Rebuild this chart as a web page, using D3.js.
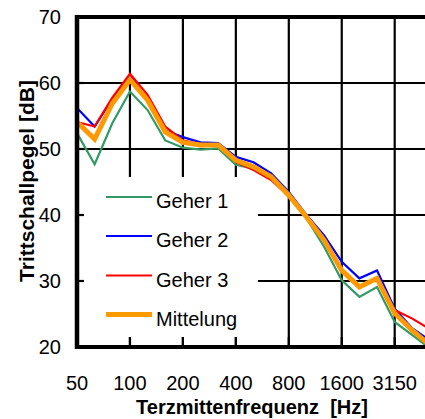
<!DOCTYPE html>
<html>
<head>
<meta charset="utf-8">
<script src="https://cdn.jsdelivr.net/npm/d3@7"></script>
<style>
  html, body { margin: 0; padding: 0; background: #fff; }
  svg { display: block; }
  text { font-family: "Liberation Sans", Arial, sans-serif; fill: #000; }
</style>
</head>
<body>
<svg id="chart" width="425" height="419"></svg>
<script>
// Third-octave bands (Hz)
const bands = ["50","63","80","100","125","160","200","250","315","400","500","630","800","1000","1250","1600","2000","2500","3150","4000","5000"];
const tickLabels = ["50","100","200","400","800","1600","3150"];
const yTicks = [20, 30, 40, 50, 60, 70];

const geher1 = [52.4, 47.7, 53.9, 58.7, 55.9, 51.3, 50.2, 49.9, 50.1, 47.6, 47.0, 45.5, 43.0, 39.5, 35.2, 30.1, 27.6, 29.1, 23.8, 21.8, 19.8];
const geher2 = [56.2, 53.4, 57.6, 61.1, 57.5, 52.8, 51.8, 51.0, 50.9, 48.8, 48.0, 46.3, 43.5, 40.0, 36.9, 32.9, 30.4, 31.6, 25.8, 22.8, 21.0];
const geher3 = [54.1, 53.4, 57.8, 61.4, 58.2, 53.4, 51.3, 50.7, 50.7, 48.0, 46.8, 45.3, 42.8, 39.7, 36.2, 31.5, 29.2, 30.4, 25.6, 24.3, 22.7];
const mittel = [54.1, 51.5, 56.9, 60.5, 57.4, 52.6, 51.0, 50.6, 50.6, 48.3, 47.3, 45.8, 43.0, 39.7, 36.2, 31.6, 29.1, 30.4, 25.1, 22.5, 20.3];

const seriesNames = ["Geher 1", "Geher 2", "Geher 3", "Mittelung"];
const seriesData = [geher1, geher2, geher3, mittel];
const seriesColors = ["#339966", "#0000ff", "#ff0000", "#ff9900"];
const seriesWidths = [2.2, 2.2, 2.2, 5];

const svg = d3.select("#chart");
const pLeft = 77, pTop = 17, pBottom = 347;
const step = 17.65;
const x = d3.scalePoint().domain(bands).range([pLeft, pLeft + step * (bands.length - 1)]);
const pRight = pLeft + step * 21;
const y = d3.scaleLinear().domain([20, 70]).range([pBottom, pTop]);

// Gridlines
const grid = svg.append("g");
yTicks.filter(v => v > 20 && v < 70).forEach(v => {
  grid.append("line").attr("x1", pLeft).attr("x2", pRight)
    .attr("y1", y(v)).attr("y2", y(v))
    .attr("stroke", "#000").attr("stroke-width", 2.2);
});
tickLabels.slice(1).forEach(t => {
  grid.append("line").attr("x1", x(t)).attr("x2", x(t))
    .attr("y1", pTop).attr("y2", pBottom)
    .attr("stroke", "#000").attr("stroke-width", 2.2);
});

// Curves
const line = d3.line().x((d, i) => x(bands[i])).y(d => y(d));
seriesData.forEach((s, k) => {
  svg.append("path").datum(s).attr("d", line)
    .attr("fill", "none").attr("stroke", seriesColors[k])
    .attr("stroke-width", seriesWidths[k]).attr("stroke-linejoin", "miter");
});

// Legend background
svg.append("rect").attr("x", 79).attr("y", 177).attr("width", 179).attr("height", 160).attr("fill", "#fff");

// Inner ticks
tickLabels.slice(1).forEach(t => {
  svg.append("line").attr("x1", x(t)).attr("x2", x(t))
    .attr("y1", pBottom - 10).attr("y2", pBottom)
    .attr("stroke", "#000").attr("stroke-width", 2.2);
});
yTicks.forEach(v => {
  svg.append("line").attr("x1", pLeft).attr("x2", pLeft + 7)
    .attr("y1", y(v)).attr("y2", y(v))
    .attr("stroke", "#000").attr("stroke-width", 2.2);
});

// Axes frame
svg.append("line").attr("x1", pLeft).attr("x2", pRight).attr("y1", pTop).attr("y2", pTop)
  .attr("stroke", "#000").attr("stroke-width", 4);
svg.append("line").attr("x1", pLeft).attr("x2", pRight).attr("y1", pBottom).attr("y2", pBottom)
  .attr("stroke", "#000").attr("stroke-width", 4);
svg.append("line").attr("x1", pLeft).attr("x2", pLeft).attr("y1", pTop - 2).attr("y2", pBottom + 2)
  .attr("stroke", "#000").attr("stroke-width", 4.5);

// Tick labels
svg.append("g").selectAll("text").data(yTicks).join("text")
  .attr("x", 61).attr("y", d => y(d) + 7)
  .attr("text-anchor", "end").attr("font-size", 20).text(d => d);
svg.append("g").selectAll("text").data(tickLabels).join("text")
  .attr("x", d => x(d)).attr("y", 390)
  .attr("text-anchor", "middle").attr("font-size", 20).text(d => d);

// Axis titles
svg.append("text").attr("x", 252).attr("y", 414).attr("text-anchor", "middle")
  .attr("font-size", 20).attr("font-weight", "bold").style("white-space", "pre")
  .text("Terzmittenfrequenz  [Hz]");
svg.append("text").attr("transform", "translate(34,181) rotate(-90)")
  .attr("text-anchor", "middle").attr("font-size", 21).attr("font-weight", "bold")
  .text("Trittschallpegel [dB]");

// Legend
const legY = [197, 236, 275.5, 314.5];
seriesNames.forEach((n, k) => {
  svg.append("line").attr("x1", 106).attr("x2", 152)
    .attr("y1", legY[k]).attr("y2", legY[k])
    .attr("stroke", seriesColors[k]).attr("stroke-width", seriesWidths[k]);
  svg.append("text").attr("x", 156).attr("y", legY[k] + 11)
    .attr("font-size", 20).text(n);
});
</script>
</body>
</html>
